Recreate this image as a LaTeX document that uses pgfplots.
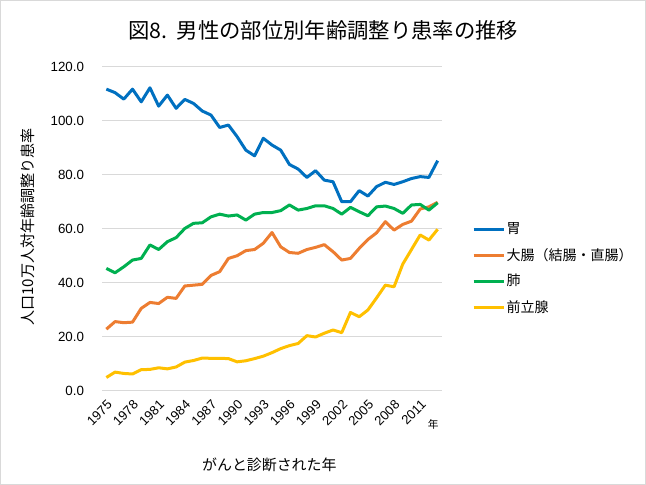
\documentclass[border=0pt]{standalone}
\usepackage{pgfplots}
\pgfplotsset{compat=1.18}
\usepackage{pgfplotstable}
\usepackage{fontspec}
\setmainfont{Liberation Sans}
\newfontfamily\jp{Noto Sans CJK JP}
\definecolor{cblue}{HTML}{0070C0}
\definecolor{corange}{HTML}{ED7D31}
\definecolor{cgreen}{HTML}{00B050}
\definecolor{cyellow}{HTML}{FFC000}
\definecolor{cgrid}{HTML}{D9D9D9}
\pgfplotstableread{
year stomach colon lung prostate
1975 111.7 22.8 45.3 4.9
1976 110.4 25.6 43.7 6.9
1977 108.0 25.2 45.9 6.4
1978 111.7 25.4 48.4 6.2
1979 107.0 30.5 49.0 7.8
1980 112.2 32.7 54.0 7.9
1981 105.4 32.3 52.3 8.5
1982 109.5 34.6 55.2 8.1
1983 104.6 34.2 56.7 8.8
1984 107.9 38.8 60.1 10.6
1985 106.4 39.1 62.0 11.2
1986 103.6 39.4 62.2 12.1
1987 102.1 42.7 64.4 12.0
1988 97.5 44.1 65.4 12.0
1989 98.4 49.0 64.7 11.9
1990 94.1 50.0 65.1 10.7
1991 89.1 51.9 63.2 11.1
1992 87.0 52.3 65.4 11.9
1993 93.5 54.6 66.0 12.8
1994 91.0 58.6 66.0 14.1
1995 89.1 53.3 66.7 15.6
1996 83.8 51.2 68.8 16.7
1997 82.1 50.9 66.9 17.5
1998 79.0 52.3 67.5 20.4
1999 81.5 53.1 68.5 19.9
2000 78.0 54.1 68.5 21.3
2001 77.4 51.5 67.5 22.5
2002 70.0 48.4 65.4 21.5
2003 70.0 49.0 67.9 29.0
2004 74.1 52.7 66.3 27.4
2005 72.1 56.0 64.8 29.9
2006 75.6 58.5 68.1 34.4
2007 77.2 62.6 68.4 39.1
2008 76.4 59.5 67.5 38.5
2009 77.4 61.6 65.7 46.9
2010 78.6 62.8 68.8 52.3
2011 79.3 67.3 69.0 57.7
2012 79.0 68.1 66.9 55.8
2013 85.2 69.8 69.6 59.8
}\datatable
\begin{document}
\begin{tikzpicture}
\useasboundingbox (0,0) rectangle (484.5pt,363.75pt);
\draw[cgrid, line width=0.75pt] (0.375pt,0.375pt) rectangle (484.125pt,363.375pt);
\node[font=\jp\fontsize{16}{18}\selectfont] at (242.5pt,341pt) {図8.\hspace{0.45em}男性の部位別年齢調整り患率の推移};
\node[font=\jp\fontsize{11.3}{13}\selectfont, rotate=90] at (20.6pt,193.5pt) {人口10万人対年齢調整り患率};
\node[font=\jp\fontsize{11.2}{13}\selectfont] at (202pt,15pt) {がんと診断された年};
\begin{axis}[
  at={(76.5pt,70.7pt)}, anchor=origin,
  scale only axis, width=255pt, height=243pt,
  xmin=1974.5, xmax=2013.5, ymin=0, ymax=120,
  xtick={1975,1978,...,2011}, ytick={0,20,...,120},
  ymajorgrids, grid style={cgrid, line width=0.75pt},
  axis line style={draw=none}, major tick length=0pt,
  clip=false,
  /pgf/number format/assume math mode=true,
  xticklabel={\pgfmathprintnumber[1000 sep={}]{\tick}},
  yticklabel={\pgfmathprintnumber[fixed, fixed zerofill, precision=1]{\tick}},
  xticklabel style={font=\fontsize{9.8}{12}\selectfont, rotate=45, anchor=east, yshift=-8pt, xshift=-1pt},
  yticklabel style={font=\fontsize{10}{12}\selectfont, xshift=-10pt},
  legend style={at={(1.088,0.519)}, anchor=north west, draw=none, fill=none,
    font=\jp\fontsize{10.5}{12}\selectfont, row sep=9.2pt, inner sep=0pt,
    nodes={inner xsep=0.5pt, inner ysep=0pt}},
  legend cell align=left,
  legend image code/.code={\draw[#1, line width=2.25pt] (0pt,0pt) -- (23pt,0pt);},
  every axis plot/.append style={line width=2.25pt, line join=round, mark=none},
]
\addplot[cblue] table[x=year, y=stomach] {\datatable};
\addlegendentry{胃}
\addplot[corange] table[x=year, y=colon] {\datatable};
\addlegendentry{大腸（結腸・直腸）}
\addplot[cgreen] table[x=year, y=lung] {\datatable};
\addlegendentry{肺}
\addplot[cyellow] table[x=year, y=prostate] {\datatable};
\addlegendentry{前立腺}
\node[font=\jp\fontsize{8}{10}\selectfont] at (rel axis cs:0.974,-0.103) {年};
\end{axis}
\end{tikzpicture}
\end{document}
